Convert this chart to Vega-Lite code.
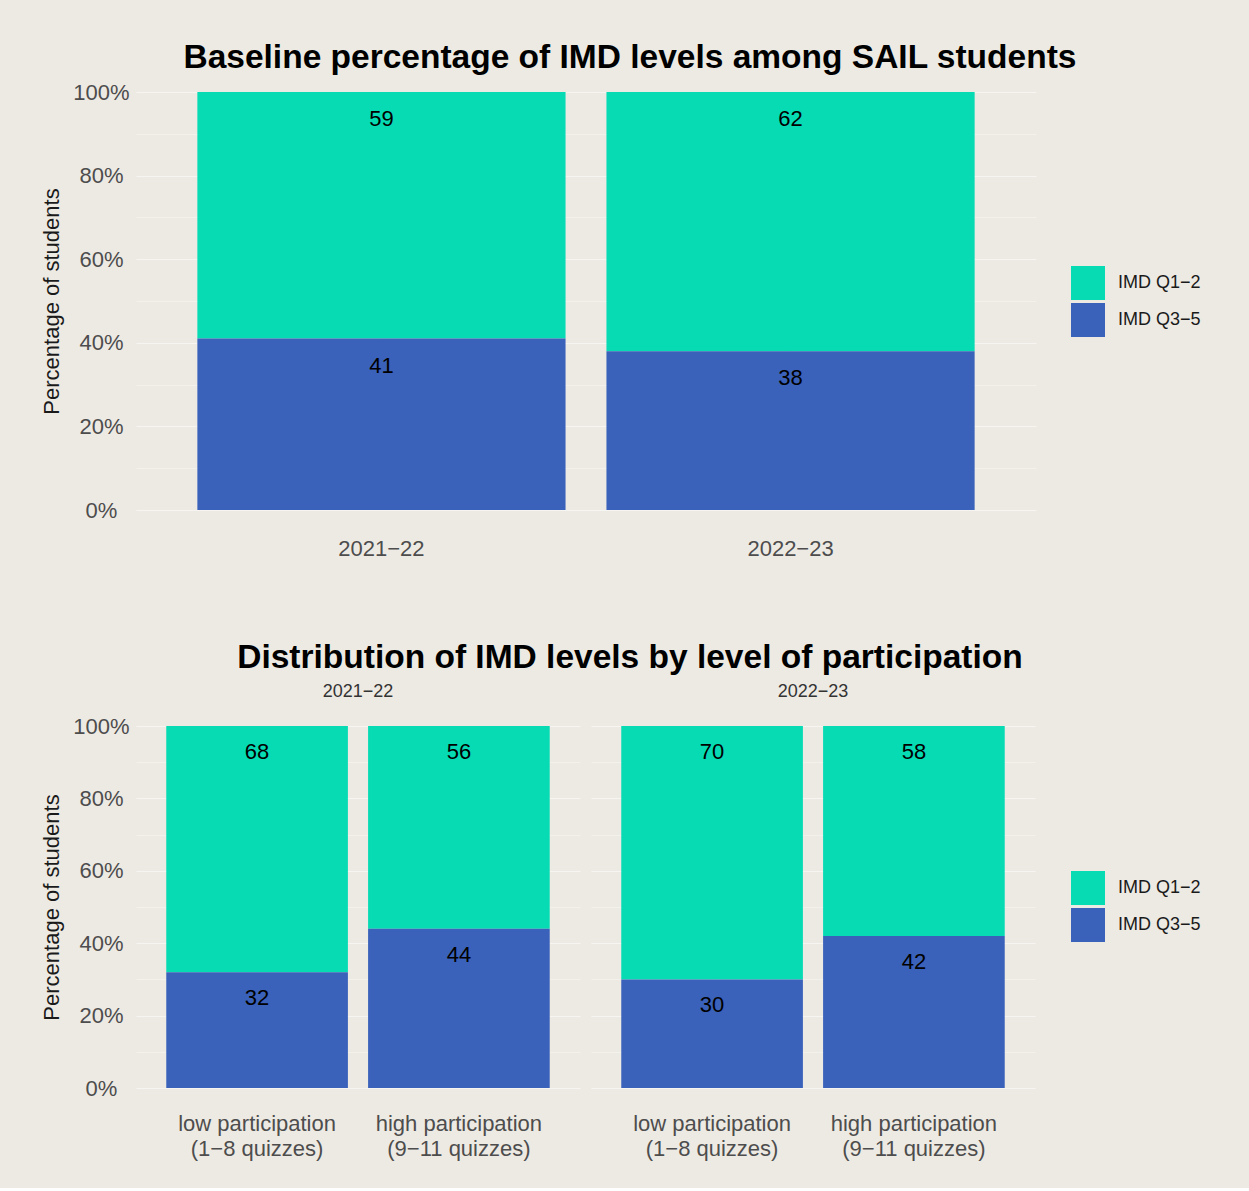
{
  "$schema": "https://vega.github.io/schema/vega-lite/v6.json",
  "background": "#edeae4",
  "padding": {"left": 40, "top": 40, "right": 48, "bottom": 29},
  "config": {
    "font": "Liberation Sans",
    "view": {"stroke": null},
    "axis": {
      "domain": false, "ticks": false, "grid": true,
      "gridColor": "#f7f5f1",
      "labelColor": "#4d4d4d", "labelFontSize": 22, "labelFont": "Liberation Sans",
      "titleFontSize": 22, "titleFontWeight": "normal", "titleColor": "#1a1a1a", "titleFont": "Liberation Sans"
    },
    "title": {"fontSize": 33.5, "fontWeight": "bold", "color": "#000000", "font": "Liberation Sans"},
    "legend": {
      "symbolType": "square", "symbolSize": 1156, "symbolStrokeWidth": 0, "symbolOpacity": 1,
      "labelFontSize": 18, "labelColor": "#1a1a1a", "labelOffset": 13, "rowPadding": 3
    },
    "header": {"labelFontSize": 18, "labelColor": "#333333", "labelFont": "Liberation Sans"}
  },
  "spacing": 81,
  "resolve": {"legend": {"color": "independent"}, "scale": {"color": "independent"}},
  "vconcat": [
    {
      "title": {"text": "Baseline percentage of IMD levels among SAIL students", "anchor": "middle", "frame": "bounds", "offset": 6, "dx": 9},
      "width": 900,
      "height": 418,
      "data": {"values": [
        {"year": "2021−22", "group": "IMD Q1−2", "pct": 59},
        {"year": "2021−22", "group": "IMD Q3−5", "pct": 41},
        {"year": "2022−23", "group": "IMD Q1−2", "pct": 62},
        {"year": "2022−23", "group": "IMD Q3−5", "pct": 38}
      ]},
      "encoding": {
        "x": {"field": "year", "type": "nominal",
          "scale": {"paddingInner": 0.1, "paddingOuter": 0.15},
          "axis": {"title": null, "labelAngle": 0, "labelPadding": 28, "bandPosition": 0.5, "gridWidth": 1}},
        "y": {"field": "pct", "type": "quantitative", "stack": "zero",
          "scale": {"domain": [0, 100], "nice": false},
          "axis": {"title": "Percentage of students", "values": [0,10,20,30,40,50,60,70,80,90,100],
            "labelExpr": "datum.value % 20 == 0 ? datum.value + '%' : ''",
            "labelAlign": "center", "labelPadding": 35, "titlePadding": 9,
            "gridWidth": {"condition": {"test": "datum.value % 20 == 0", "value": 1.2}, "value": 0.6}}},
        "order": {"field": "group", "sort": "descending"}
      },
      "layer": [
        {"mark": {"type": "bar"},
         "encoding": {"color": {"field": "group", "type": "nominal",
            "scale": {"domain": ["IMD Q1−2", "IMD Q3−5"], "range": ["#06dbb4", "#3a62ba"]},
            "legend": {"title": null, "orient": "none", "legendX": 935, "legendY": 174}}}},
        {"mark": {"type": "text", "baseline": "middle", "dy": 27, "fontSize": 22, "color": "#000000"},
         "encoding": {"text": {"field": "pct", "type": "quantitative"}, "detail": {"field": "group"}}}
      ]
    },
    {
      "title": {"text": "Distribution of IMD levels by level of participation", "anchor": "middle", "frame": "bounds", "offset": 8, "dx": 9},
      "data": {"values": [
        {"year": "2021−22", "part": "low participation (1−8 quizzes)", "group": "IMD Q1−2", "pct": 68},
        {"year": "2021−22", "part": "low participation (1−8 quizzes)", "group": "IMD Q3−5", "pct": 32},
        {"year": "2021−22", "part": "high participation (9−11 quizzes)", "group": "IMD Q1−2", "pct": 56},
        {"year": "2021−22", "part": "high participation (9−11 quizzes)", "group": "IMD Q3−5", "pct": 44},
        {"year": "2022−23", "part": "low participation (1−8 quizzes)", "group": "IMD Q1−2", "pct": 70},
        {"year": "2022−23", "part": "low participation (1−8 quizzes)", "group": "IMD Q3−5", "pct": 30},
        {"year": "2022−23", "part": "high participation (9−11 quizzes)", "group": "IMD Q1−2", "pct": 58},
        {"year": "2022−23", "part": "high participation (9−11 quizzes)", "group": "IMD Q3−5", "pct": 42}
      ]},
      "facet": {"column": {"field": "year", "type": "nominal", "header": {"title": null, "labelPadding": 25}}},
      "spacing": {"column": 11},
      "spec": {
        "width": 444,
        "height": 362,
        "encoding": {
          "x": {"field": "part", "type": "nominal",
            "sort": ["low participation (1−8 quizzes)", "high participation (9−11 quizzes)"],
            "scale": {"paddingInner": 0.1, "paddingOuter": 0.15},
            "axis": {"title": null, "labelAngle": 0, "labelPadding": 25, "labelLineHeight": 25, "bandPosition": 0.5, "gridWidth": 1,
              "labelExpr": "split(replace(datum.label, ' (', '|('), '|')"}},
          "y": {"field": "pct", "type": "quantitative", "stack": "zero",
            "scale": {"domain": [0, 100], "nice": false},
            "axis": {"title": "Percentage of students", "values": [0,10,20,30,40,50,60,70,80,90,100],
              "labelExpr": "datum.value % 20 == 0 ? datum.value + '%' : ''",
              "labelAlign": "center", "labelPadding": 35, "titlePadding": 9,
              "gridWidth": {"condition": {"test": "datum.value % 20 == 0", "value": 1.2}, "value": 0.6}}},
          "order": {"field": "group", "sort": "descending"}
        },
        "layer": [
          {"mark": {"type": "bar"},
           "encoding": {"color": {"field": "group", "type": "nominal",
              "scale": {"domain": ["IMD Q1−2", "IMD Q3−5"], "range": ["#06dbb4", "#3a62ba"]},
              "legend": {"title": null, "orient": "none", "legendX": 935, "legendY": 145}}}},
          {"mark": {"type": "text", "baseline": "middle", "dy": 26, "fontSize": 22, "color": "#000000"},
           "encoding": {"text": {"field": "pct", "type": "quantitative"}, "detail": {"field": "group"}}}
        ]
      }
    }
  ]
}
